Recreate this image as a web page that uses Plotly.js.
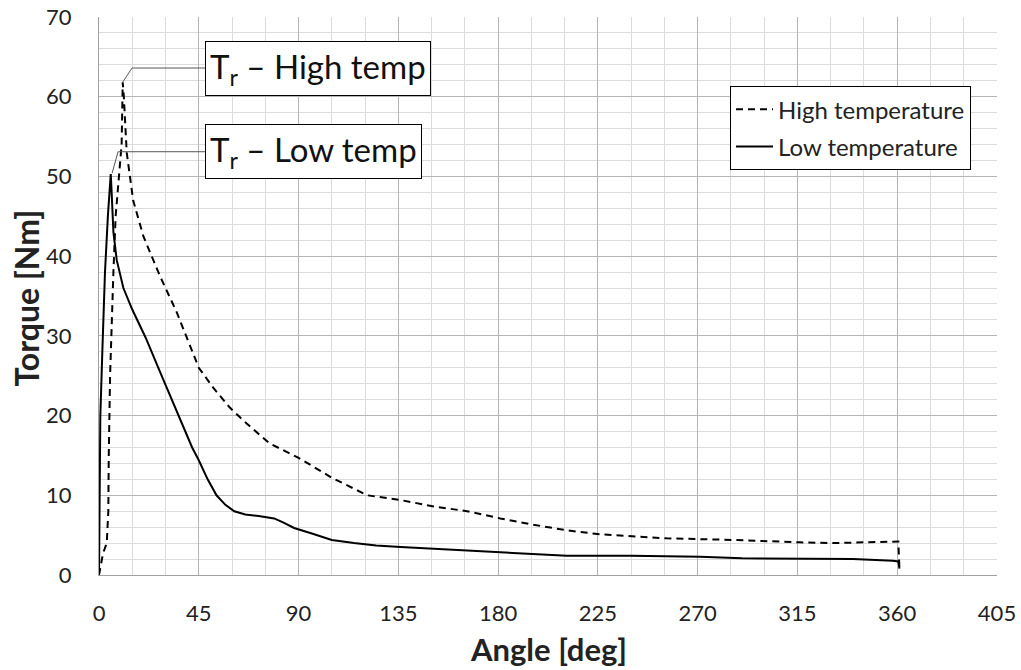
<!DOCTYPE html>
<html>
<head>
<meta charset="utf-8">
<script src="https://cdn.plot.ly/plotly-3.0.1.min.js"></script>
<style>html,body{margin:0;padding:0;background:#fff;}#chart{width:1021px;height:670px;}</style>
</head>
<body>
<div id="chart"></div>
<script>
// High temperature (dashed) – angle [deg], torque [Nm]
var highAngle = [0, 1, 1.8, 3.5, 4.2, 4.4, 4.7, 5, 6.5, 7.5, 8.7, 10.2, 10.7, 11.2, 12.5, 15.4, 20, 27.5, 35, 40, 45, 51.5, 59, 66.6, 77, 90, 105, 121, 136, 151, 166, 181, 196, 211, 226, 256, 286, 316, 331, 345, 360.5, 361];
var highTorque = [0, 1.5, 2.7, 4, 8, 15, 20, 25, 38, 45, 49, 54, 61.8, 60, 53, 47, 42.5, 37.5, 33, 29.5, 26, 23.5, 21, 19, 16.5, 14.7, 12.2, 10, 9.4, 8.6, 8, 7.1, 6.3, 5.6, 5.1, 4.6, 4.4, 4.1, 4.0, 4.1, 4.2, 0.8];

// Low temperature (solid)
var lowAngle = [0, 0.3, 0.6, 1.5, 2.7, 4, 5.3, 5.7, 6.5, 8, 11, 15, 21, 29, 36.5, 42, 45, 49, 53, 57, 61, 66, 72, 79, 83, 88, 96, 105, 115, 125, 136, 150, 165, 181, 196, 211, 240, 271, 290, 316, 340, 358, 360.5, 361];
var lowTorque = [0, 10, 20, 28, 38, 45, 50.3, 48, 43, 39.5, 36, 33.3, 29.8, 24.5, 19.6, 16, 14.4, 12, 10, 8.8, 8, 7.6, 7.4, 7.1, 6.6, 5.9, 5.2, 4.4, 4.0, 3.7, 3.5, 3.3, 3.1, 2.8, 2.6, 2.4, 2.4, 2.3, 2.1, 2.0, 2.0, 1.8, 1.7, 0.8];

var seriesNames = ["High temperature", "Low temperature"];
var xTicks = [0, 45, 90, 135, 180, 225, 270, 315, 360, 405];
var yTicks = [0, 10, 20, 30, 40, 50, 60, 70];
var xTitle = "Angle [deg]";
var yTitle = "Torque [Nm]";
var labelHigh = "T<sub>r</sub> – High temp";
var labelLow = "T<sub>r</sub> – Low temp";

var FONT = "Lato, 'Open Sans', sans-serif";
var GRID = "#b5b5b5", MINOR = "#dcdcdc", AXIS = "#a0a0a0";

var traces = [
  {x: highAngle, y: highTorque, name: seriesNames[0], mode: "lines", legendgroup: "h",
   line: {color: "#000", width: 2, dash: "7px,5px"}},
  {x: lowAngle, y: lowTorque, name: seriesNames[1], mode: "lines", legendgroup: "l",
   line: {color: "#000", width: 2}}
];

var layout = {
  width: 1021, height: 670,
  margin: {l: 99, r: 24, t: 17, b: 95},
  paper_bgcolor: "#fff", plot_bgcolor: "#fff",
  font: {family: FONT, color: "#222", size: 18},
  showlegend: true,
  legend: {x: 0.7027, y: 0.876, xanchor: "left", yanchor: "top",
           bordercolor: "#000", borderwidth: 1, bgcolor: "#fff",
           font: {family: FONT, size: 24, color: "#222"},
           traceorder: "grouped", tracegroupgap: 3, itemwidth: 37},
  // main axes: grid + labels (label distance set by transparent tick length)
  xaxis: {
    range: [0, 405], tickvals: xTicks, ticktext: xTicks.map(String),
    showgrid: true, gridcolor: GRID, gridwidth: 1,
    minor: {dtick: 15, tick0: 0, showgrid: true, gridcolor: MINOR, gridwidth: 1},
    zeroline: false, showline: true, linecolor: AXIS, linewidth: 1,
    ticks: "outside", ticklen: 19, tickcolor: "rgba(0,0,0,0)",
    tickfont: {size: 22, family: FONT, color: "#222"},
    automargin: false, fixedrange: true
  },
  yaxis: {
    range: [0, 70], tickvals: yTicks, ticktext: yTicks.map(String),
    showgrid: true, gridcolor: GRID, gridwidth: 1,
    minor: {dtick: 2, tick0: 0, showgrid: true, gridcolor: MINOR, gridwidth: 1},
    zeroline: false, showline: true, linecolor: AXIS, linewidth: 1,
    ticks: "outside", ticklen: 22, tickcolor: "rgba(0,0,0,0)",
    tickfont: {size: 22, family: FONT, color: "#222"},
    automargin: false, fixedrange: true
  },
  // overlay axes: visible tick marks only
  xaxis2: {
    overlaying: "x", matches: "x", anchor: "y", side: "bottom",
    range: [0, 405], tickvals: xTicks, showticklabels: false,
    showgrid: false, zeroline: false, showline: false,
    ticks: "outside", ticklen: 8, tickcolor: AXIS, fixedrange: true
  },
  yaxis2: {
    overlaying: "y", matches: "y", anchor: "x", side: "left",
    range: [0, 70], tickvals: yTicks, showticklabels: false,
    showgrid: false, zeroline: false, showline: false,
    ticks: "outside", ticklen: 10, tickcolor: AXIS, fixedrange: true
  },
  shapes: [
    {type: "line", xref: "x", yref: "y", x0: 10.6, y0: 61.8, x1: 14.9, y1: 63.6, line: {color: "#555", width: 1}},
    {type: "line", xref: "x", yref: "y", x0: 14.9, y0: 63.6, x1: 47.8, y1: 63.6, line: {color: "#555", width: 1}},
    {type: "line", xref: "x", yref: "y", x0: 5.9, y0: 50.4, x1: 8.6, y1: 53.1, line: {color: "#555", width: 1}},
    {type: "line", xref: "x", yref: "y", x0: 8.6, y0: 53.1, x1: 47.8, y1: 53.1, line: {color: "#555", width: 1}}
  ],
  annotations: [
    {xref: "x", yref: "y", x: 47.8, y: 63.6, xanchor: "left", yanchor: "middle",
     text: labelHigh, showarrow: false, bgcolor: "#fff", bordercolor: "#000", borderwidth: 1, borderpad: 4,
     font: {family: FONT, size: 33, color: "#111"}},
    {xref: "x", yref: "y", x: 47.8, y: 53.1, xanchor: "left", yanchor: "middle",
     text: labelLow, showarrow: false, bgcolor: "#fff", bordercolor: "#000", borderwidth: 1, borderpad: 4,
     font: {family: FONT, size: 33, color: "#111"}},
    {xref: "paper", yref: "paper", x: 0.5, y: -0.1326, xanchor: "center", yanchor: "middle",
     text: "<b>" + xTitle + "</b>", showarrow: false,
     font: {family: FONT, size: 31, color: "#222"}},
    {xref: "paper", yref: "paper", x: -0.081, y: 0.496, xanchor: "center", yanchor: "middle",
     text: "<b>" + yTitle + "</b>", showarrow: false, textangle: -90,
     font: {family: FONT, size: 32, color: "#222"}}
  ]
};

Plotly.newPlot("chart", traces, layout, {displayModeBar: false, staticPlot: true});
</script>
</body>
</html>
